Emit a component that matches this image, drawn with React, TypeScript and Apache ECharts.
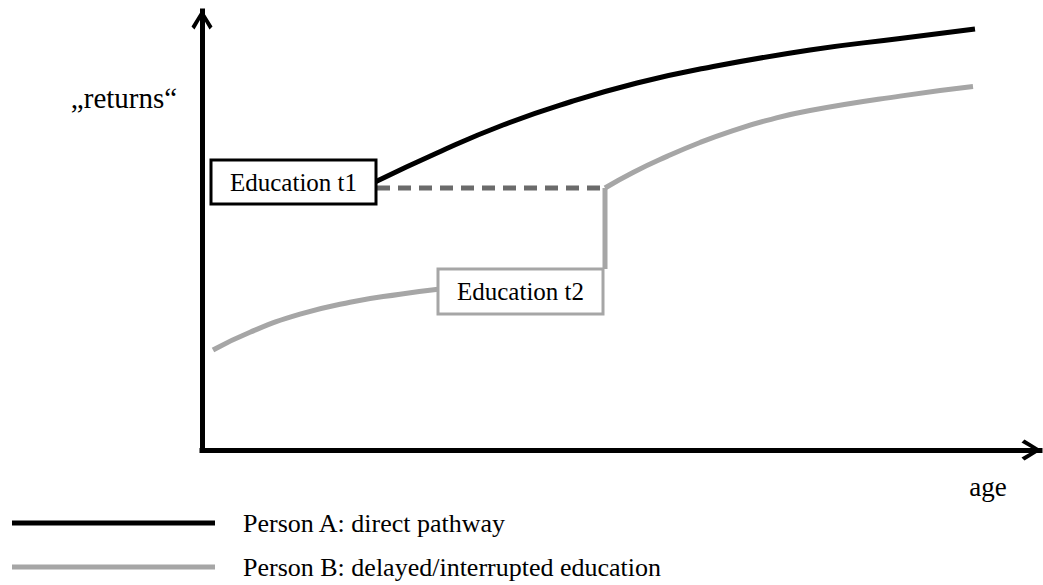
import React, { useEffect, useRef } from "react";
import * as echarts from "echarts";

// Person A: direct pathway (age, returns) in abstract units
const ageA = [173, 235, 301, 368, 435, 501, 608, 698, 773];
const returnsA = [268, 297, 325, 348, 367, 381.5, 400, 411.5, 421];

// Person B before education t2
const ageB1 = [11, 48, 98, 148, 198, 236];
const returnsB1 = [100, 117.8, 135.8, 147.8, 155.8, 160.7];

// Person B: jump after education t2
const ageB2 = [403, 403];
const returnsB2 = [181, 262];

// Person B after education t2
const ageB3 = [403, 431, 465, 498, 531, 565, 608, 698, 771];
const returnsB3 = [262, 277.6, 293.6, 307.5, 319.4, 329.6, 339.5, 353.9, 363.4];

// waiting period (dashed)
const ageWait = [175, 401];
const returnsWait = [262, 262];

// annotation boxes
const boxLabels = ["Education t1", "Education t2"];
const boxAge = [91.5, 318.5];
const boxReturns = [268, 158.5];

const seriesNames = ["Person A: direct pathway", "Person B: delayed/interrupted education"];

const FONT = "'Liberation Serif', 'Times New Roman', serif";
const BLACK = "#000000";
const GRAY = "#a6a6a6";
const DARK = "#6b6b6b";

const zip = (xs: number[], ys: number[]) => xs.map((x, i) => [x, ys[i]]);

const arrowPath = "path://M10.5,0 L21,17 L18,20 L10.5,7 L3,20 L0,17 Z";

export default function App() {
  const ref = useRef<HTMLDivElement>(null);

  useEffect(() => {
    if (!ref.current) return;
    const chart = echarts.init(ref.current, null, { renderer: "svg" });

    const axisLine = {
      show: true,
      symbol: ["none", arrowPath],
      symbolSize: [21, 21],
      symbolOffset: [0, -8.5],
      lineStyle: { color: BLACK, width: 5, cap: "square" },
    };

    const boxLabel = (border: string, h: number) => ({
      show: true,
      position: "inside",
      color: "#000000",
      fontFamily: FONT,
      fontSize: 25,
      backgroundColor: "#ffffff",
      borderColor: border,
      borderWidth: 3,
      width: 162,
      height: h,
      lineHeight: h,
      align: "center",
      verticalAlign: "middle",
      padding: 0,
    });

    const legendText = {
      fontFamily: FONT,
      fontSize: 26,
      color: "#000000",
      lineHeight: 30,
      padding: [0, 0, 0, 23],
    };

    const legendCommon = {
      orient: "vertical",
      left: 12,
      itemWidth: 203,
      itemHeight: 5,
      icon: "rect",
      selectedMode: false,
      padding: 0,
      textStyle: legendText,
    };

    const curve = (name: string, xs: number[], ys: number[], color: string, extra: object = {}) => ({
      name,
      type: "line",
      data: zip(xs, ys),
      smooth: 0.5,
      showSymbol: false,
      symbol: "none",
      silent: true,
      lineStyle: { color, width: 5 },
      itemStyle: { color },
      z: 3,
      ...extra,
    });

    chart.setOption({
      animation: false,
      backgroundColor: "#ffffff",
      grid: { left: 202, right: 3, top: 11, bottom: 135 },
      xAxis: {
        type: "value",
        min: 0,
        max: 838,
        axisLine,
        axisTick: { show: false },
        axisLabel: { show: false },
        splitLine: { show: false },
      },
      yAxis: {
        type: "value",
        min: 0,
        max: 439,
        axisLine,
        axisTick: { show: false },
        axisLabel: { show: false },
        splitLine: { show: false },
      },
      legend: [
        { ...legendCommon, data: [seriesNames[0]], top: 508 },
        { ...legendCommon, data: [seriesNames[1]], top: 552 },
      ],
      graphic: [
        {
          type: "text",
          x: 124,
          y: 98,
          style: {
            text: "\u201Ereturns\u201C",
            fontFamily: FONT,
            fontSize: 29,
            fill: "#000000",
            align: "center",
            verticalAlign: "middle",
          },
        },
        {
          type: "text",
          x: 988,
          y: 487,
          style: {
            text: "age",
            fontFamily: FONT,
            fontSize: 27,
            fill: "#000000",
            align: "center",
            verticalAlign: "middle",
          },
        },
      ],
      series: [
        {
          name: "wait",
          type: "line",
          data: zip(ageWait, returnsWait),
          showSymbol: false,
          symbol: "none",
          silent: true,
          lineStyle: { color: DARK, width: 5, type: [13, 8] },
          itemStyle: { color: DARK },
          z: 2,
        },
        curve(seriesNames[0], ageA, returnsA, BLACK, {
          markPoint: {
            silent: true,
            symbol: "rect",
            symbolSize: 1,
            itemStyle: { color: "rgba(0,0,0,0)" },
            label: boxLabel(BLACK, 41),
            data: [
              { coord: [boxAge[0], boxReturns[0]], value: boxLabels[0], label: { formatter: boxLabels[0] } },
            ],
          },
        }),
        curve(seriesNames[1], ageB1, returnsB1, GRAY, {
          markPoint: {
            silent: true,
            symbol: "rect",
            symbolSize: 1,
            itemStyle: { color: "rgba(0,0,0,0)" },
            label: boxLabel(GRAY, 42),
            data: [
              { coord: [boxAge[1], boxReturns[1]], value: boxLabels[1], label: { formatter: boxLabels[1] } },
            ],
          },
        }),
        curve(seriesNames[1], ageB2, returnsB2, GRAY, { smooth: false }),
        curve(seriesNames[1], ageB3, returnsB3, GRAY),
      ],
    });

    return () => chart.dispose();
  }, []);

  return <div ref={ref} style={{ width: 1043, height: 585, position: "absolute", left: 0, top: 0 }} />;
}
